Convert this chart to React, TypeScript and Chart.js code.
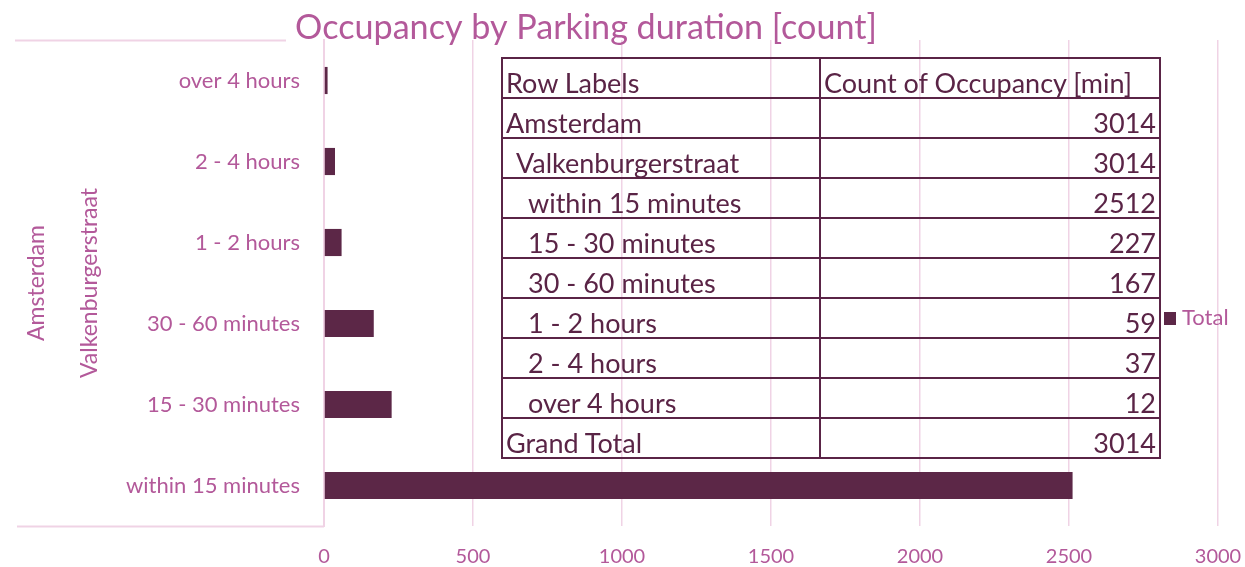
import React, { useEffect, useRef } from "react";
import { Chart, registerables } from "chart.js";

Chart.register(...registerables);

const categories = [
  "within 15 minutes",
  "15 - 30 minutes",
  "30 - 60 minutes",
  "1 - 2 hours",
  "2 - 4 hours",
  "over 4 hours",
];
const counts = [2512, 227, 167, 59, 37, 12];
const xTicks = [0, 500, 1000, 1500, 2000, 2500, 3000];
const outerLabel = "Amsterdam";
const innerLabel = "Valkenburgerstraat";
const seriesName = "Total";
const totalCount = 3014;
const chartTitle = "Occupancy by Parking duration [count]";
const tableHeaders = ["Row Labels", "Count of Occupancy [min]"];
const grandTotalLabel = "Grand Total";

const PINK = "#b3599a";
const BAR = "#5c2747";
const GRID = "#f0d3e5";
const DARK = "#5a2446";
const FONT = "Lato, 'Open Sans', sans-serif";

export default function App() {
  const ref = useRef<HTMLCanvasElement | null>(null);

  useEffect(() => {
    if (!ref.current) return;
    const decor = {
      id: "decor",
      afterDraw(chart: any) {
        const ctx = chart.ctx as CanvasRenderingContext2D;
        const area = chart.chartArea;
        ctx.save();
        // category area lines
        ctx.strokeStyle = GRID;
        ctx.lineWidth = 2;
        ctx.beginPath();
        ctx.moveTo(15, area.top + 0.5);
        ctx.lineTo(286, area.top + 0.5);
        ctx.moveTo(17, area.bottom + 0.5);
        ctx.lineTo(area.left, area.bottom + 0.5);
        ctx.stroke();
        // title
        ctx.fillStyle = PINK;
        ctx.textAlign = "center";
        ctx.textBaseline = "alphabetic";
        let size = 36;
        ctx.font = `${size}px ${FONT}`;
        const w = ctx.measureText(chartTitle).width;
        size = size * (582 / w);
        ctx.font = `${size}px ${FONT}`;
        ctx.fillText(chartTitle, 586, 39);
        // rotated group labels
        const midY = (area.top + area.bottom) / 2;
        ctx.font = `23px ${FONT}`;
        ctx.textAlign = "center";
        ctx.textBaseline = "middle";
        ctx.save();
        ctx.translate(37, midY);
        ctx.rotate(-Math.PI / 2);
        ctx.fillText(outerLabel, 0, 0);
        ctx.restore();
        ctx.save();
        ctx.translate(90, midY);
        ctx.rotate(-Math.PI / 2);
        ctx.fillText(innerLabel, 0, 0);
        ctx.restore();
        // legend
        ctx.fillStyle = BAR;
        ctx.fillRect(1164, 312, 12, 13);
        ctx.fillStyle = PINK;
        ctx.font = `22px ${FONT}`;
        ctx.textAlign = "left";
        ctx.textBaseline = "middle";
        ctx.fillText(seriesName, 1182, 318);
        ctx.restore();
      },
    };

    const chart = new Chart(ref.current, {
      type: "bar",
      data: {
        labels: categories,
        datasets: [
          {
            label: seriesName,
            data: counts,
            backgroundColor: BAR,
            borderWidth: 0,
            barPercentage: 0.335,
            categoryPercentage: 1,
          },
        ],
      },
      options: {
        indexAxis: "y",
        responsive: false,
        animation: false,
        layout: { padding: { top: 40, right: 27, bottom: 0, left: 0 } },
        plugins: { legend: { display: false }, title: { display: false }, tooltip: { enabled: false } },
        scales: {
          x: {
            min: 0,
            max: 3000,
            afterBuildTicks: (scale: any) => {
              scale.ticks = xTicks.map((v) => ({ value: v }));
            },
            afterFit: (scale: any) => {
              scale.height = 41;
              scale.paddingLeft = 0;
              scale.paddingRight = 0;
            },
            grid: { color: GRID, lineWidth: 1.5, drawTicks: false },
            border: { display: false },
            ticks: {
              color: PINK,
              font: { family: FONT, size: 20 },
              padding: 19,
              callback: (v: any) => String(v),
            },
          },
          y: {
            reverse: true,
            afterFit: (scale: any) => {
              scale.width = 324;
              scale.paddingTop = 0;
              scale.paddingBottom = 0;
            },
            grid: { display: false, drawTicks: false },
            border: { display: true, color: GRID, width: 2 },
            ticks: { color: PINK, font: { family: FONT, size: 22 }, padding: 24 },
          },
        },
      },
      plugins: [decor],
    });
    return () => chart.destroy();
  }, []);

  const cell: React.CSSProperties = {
    border: `2px solid ${DARK}`,
    height: 38,
    padding: "0 2px 0 3px",
    verticalAlign: "bottom",
    lineHeight: "28px",
    whiteSpace: "nowrap",
    boxSizing: "border-box",
  };
  const num: React.CSSProperties = { ...cell, textAlign: "right", paddingRight: 3 };
  const rows: [string, number, number][] = [
    [outerLabel, totalCount, 0],
    [innerLabel, totalCount, 10],
    ...categories.map((c, i) => [c, counts[i], 22] as [string, number, number]),
    [grandTotalLabel, totalCount, 0],
  ];

  return (
    <div style={{ position: "fixed", left: 0, top: 0, width: 1245, height: 567, background: "#fff", overflow: "hidden" }}>
      <canvas ref={ref} width={1245} height={567} style={{ position: "absolute", left: 0, top: 0 }} />
      <table
        style={{
          position: "absolute",
          left: 501,
          top: 57,
          borderCollapse: "collapse",
          fontFamily: FONT,
          fontSize: 27,
          color: DARK,
          tableLayout: "fixed",
          width: 658,
        }}
      >
        <colgroup>
          <col style={{ width: 318 }} />
          <col style={{ width: 340 }} />
        </colgroup>
        <tbody>
          <tr style={{ height: 40 }}>
            <td style={cell}>{tableHeaders[0]}</td>
            <td style={cell}>{tableHeaders[1]}</td>
          </tr>
          {rows.map(([label, v, indent], i) => (
            <tr key={i} style={{ height: 40 }}>
              <td style={{ ...cell, paddingLeft: 3 + indent }}>{label}</td>
              <td style={num}>{v}</td>
            </tr>
          ))}
        </tbody>
      </table>
    </div>
  );
}
